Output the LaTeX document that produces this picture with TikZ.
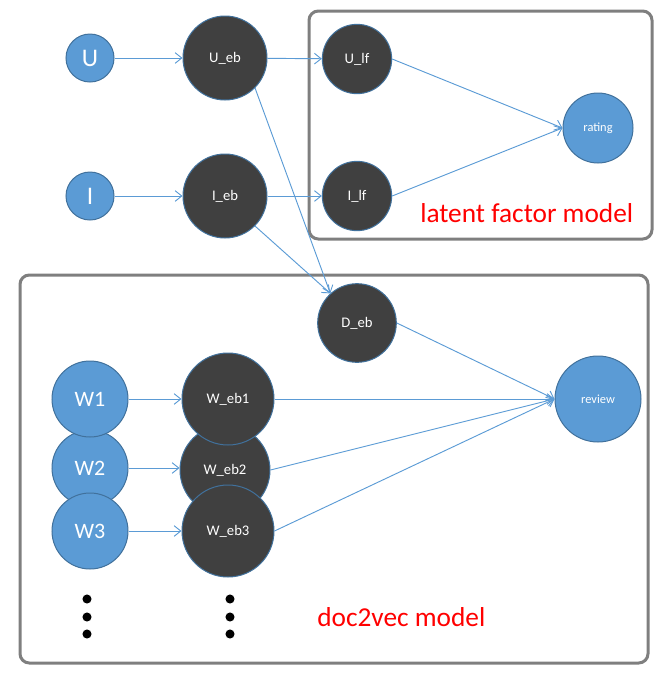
\documentclass[tikz,border=0pt]{standalone}
\usepackage{fontspec}
\setmainfont{Carlito}
\usetikzlibrary{arrows.meta}
\definecolor{nblue}{HTML}{5B9BD5}
\definecolor{nborder}{HTML}{41719C}
\definecolor{ndark}{HTML}{404040}
\definecolor{boxgray}{HTML}{7F7F7F}
\definecolor{lblred}{HTML}{FF0000}
\begin{document}
\begin{tikzpicture}[x=0.75pt,y=-0.75pt,
  bluenode/.style={circle, fill=nblue, draw=nborder, line width=0.75pt, text=white, inner sep=0pt},
  darknode/.style={circle, fill=ndark, draw=nborder, line width=0.75pt, text=white, inner sep=0pt},
  conn/.style={draw=nblue, line width=0.7pt, -{Straight Barb[length=5pt,width=8pt]}},
  frame/.style={draw=boxgray, line width=2.25pt, rounded corners=7pt},
  bigtxt/.style={font=\fontsize{19}{19}\selectfont},
  wtxt/.style={font=\fontsize{16.5}{16.5}\selectfont},
  midtxt/.style={font=\fontsize{11}{11}\selectfont},
  smalltxt/.style={font=\fontsize{9.3}{9.3}\selectfont},
  lbl/.style={text=lblred, font=\fontsize{20.5}{20.5}\selectfont, inner sep=0pt, anchor=base west},
  dotmark/.style={circle, fill=black, inner sep=0pt, minimum size=6.8pt}
]
\useasboundingbox (0,0) rectangle (664,679);

% frames
\draw[frame] (309,11) rectangle (652,239);
\draw[frame] (20,275) rectangle (648,663);

% top nodes
\node[bluenode, minimum size=36pt, bigtxt] (U) at (90,58) {U};
\node[darknode, minimum size=63pt, midtxt] (Ueb) at (225,58) {U\_eb};
\node[bluenode, minimum size=36pt, bigtxt] (I) at (90,196) {I};
\node[darknode, minimum size=63pt, midtxt] (Ieb) at (225,196) {I\_eb};
\node[darknode, minimum size=52pt, midtxt] (Ulf) at (357,59) {U\_lf};
\node[darknode, minimum size=52pt, midtxt] (Ilf) at (357,196) {I\_lf};
\node[bluenode, minimum size=52.5pt, smalltxt] (rating) at (598,128) {rating};

% lower nodes
\node[darknode, minimum size=59pt, midtxt] (Deb) at (357,323) {D\_eb};
\node[bluenode, minimum size=64.5pt, smalltxt] (review) at (598,399) {review};

\node[bluenode, minimum size=57pt, wtxt] (W2) at (90,468) {W2};
\node[bluenode, minimum size=57pt, wtxt] (W1) at (90,399) {W1};
\node[bluenode, minimum size=57pt, wtxt] (W3) at (90,531) {W3};

\node[darknode, minimum size=67.5pt, midtxt] (Web2) at (225,470) {W\_eb2};
\node[darknode, minimum size=69pt, midtxt] (Web1) at (228,399) {W\_eb1};
\node[darknode, minimum size=69pt, midtxt] (Web3) at (228,531) {W\_eb3};

% dots
\node[dotmark] (d1) at (87,599) {};
\node[dotmark] (d2) at (87,617) {};
\node[dotmark] (d3) at (87,634) {};
\node[dotmark] (e1) at (230,599) {};
\node[dotmark] (e2) at (230,617) {};
\node[dotmark] (e3) at (230,634) {};

% labels
\node[lbl] (lfm) at (420,222) {latent factor model};
\node[lbl] (d2v) at (317,626) {doc2vec model};

% connectors
\draw[conn] (U) -- (Ueb);
\draw[conn] (I) -- (Ieb);
\draw[conn] (Ueb) -- (Ulf);
\draw[conn] (Ieb) -- (Ilf);
\draw[conn] (Ueb.-45) -- (Deb.132);
\draw[conn] (Ieb.-45) -- (Deb.132);
\draw[conn] (Ulf.east) -- (rating.west);
\draw[conn] (Ilf.east) -- (rating.west);
\draw[conn] (Deb.east) -- (review.west);
\draw[conn] (Web1.east) -- (review.west);
\draw[conn] (Web2.east) -- (review.west);
\draw[conn] (Web3.east) -- (review.west);
\draw[conn] (W1.east) -- (Web1.west);
\draw[conn] (W2.east) -- (W2.east -| Web2.west);
\draw[conn] (W3.east) -- (Web3.west);
\end{tikzpicture}
\end{document}
